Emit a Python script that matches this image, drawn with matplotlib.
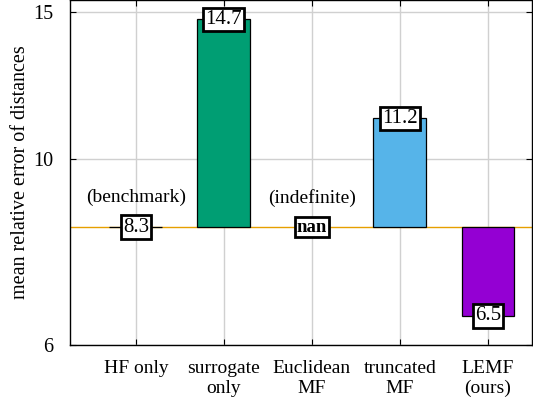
import numpy as np
import matplotlib
matplotlib.use("Agg")
import matplotlib.pyplot as plt

# data
categories = ["HF only", "surrogate\nonly", "Euclidean\nMF", "truncated\nMF", "LEMF\n(ours)"]
errors = [8.3, 14.7, np.nan, 11.2, 6.5]
value_labels = ["8.3", "14.7", "nan", "11.2", "6.5"]
notes = {0: "(benchmark)", 2: "(indefinite)"}
baseline = 8.3
colors = ["#000000", "#009E73", "#888888", "#56B4E9", "#9400D3"]
yticks = [6, 10, 15]

plt.rcParams["font.family"] = ["Liberation Serif", "DejaVu Serif"]

fig = plt.figure(figsize=(5.33, 4.04), dpi=100)
ax = fig.add_axes([0.131, 0.146, 0.867, 0.854])

x = np.arange(len(categories))
ax.axhline(baseline, color="#E69F00", linewidth=1.0, zorder=1)
box = dict(boxstyle="square,pad=0.1", fc="white", ec="black", lw=2.0)
for i, v in enumerate(errors):
    if np.isnan(v):
        continue
    ax.bar(x[i], v - baseline, bottom=baseline, width=0.6,
           color=colors[i], edgecolor="black", linewidth=0.9, zorder=2)
    ax.text(x[i], v, value_labels[i], ha="center", va="center", fontsize=15,
            bbox=box, zorder=4)
for i, v in enumerate(errors):
    if np.isnan(v):
        ax.text(x[i], baseline, value_labels[i], ha="center", va="center",
                fontsize=13.5, fontweight="bold", bbox=box, zorder=4)
for i, s in notes.items():
    ax.text(x[i], 9.0, s, ha="center", va="center", fontsize=14, zorder=4)

ax.set_yscale("log")
ax.set_ylim(6, 15.5)
ax.set_xlim(-0.75, 4.5)
ax.set_yticks(yticks)
ax.set_yticklabels([str(t) for t in yticks])
ax.yaxis.set_minor_locator(matplotlib.ticker.NullLocator())
ax.set_xticks(x)
ax.set_xticklabels(categories, fontsize=14, linespacing=1.2)
ax.tick_params(axis="y", labelsize=14.5, pad=12)
ax.tick_params(axis="x", pad=11)
ax.tick_params(direction="in", top=True, right=True, length=4, width=0.8)
ax.grid(True, color="#d0d0d0", linewidth=1.0, zorder=0)
ax.set_axisbelow(True)
ax.set_ylabel("mean relative error of distances", fontsize=14.5, labelpad=2)
for sp in ax.spines.values():
    sp.set_linewidth(1.0)

fig.savefig("out.png", dpi=100)
